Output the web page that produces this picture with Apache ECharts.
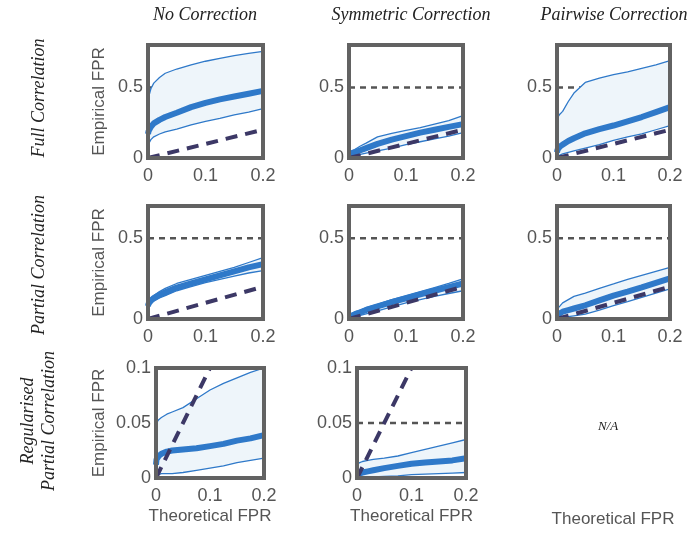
<!DOCTYPE html>
<html>
<head>
<meta charset="utf-8">
<script src="https://cdn.jsdelivr.net/npm/echarts@6/dist/echarts.min.js"></script>
<style>html,body{margin:0;padding:0;background:#fff;}#c{width:693px;height:537px;}</style>
</head>
<body>
<div id="c"></div>
<script>
// Theoretical FPR sample points (x) shared by every panel
var fprX = [0, 0.001, 0.005, 0.01, 0.02, 0.03, 0.05, 0.075, 0.1, 0.125, 0.15, 0.175, 0.2];

// Column / row labels
var colTitles = ['No Correction', 'Symmetric Correction', 'Pairwise Correction'];
var rowTitles = ['Full Correlation', 'Partial Correlation', 'Regularised\nPartial Correlation'];
var yAxisName = 'Empirical FPR';
var xAxisName = 'Theoretical FPR';
var naText = 'N/A';

// Row 1: Full Correlation
var fullNoUpper   = [0.40, 0.43, 0.49, 0.53, 0.57, 0.60, 0.63, 0.66, 0.685, 0.705, 0.725, 0.74, 0.755];
var fullNoMedian  = [0.17, 0.19, 0.22, 0.245, 0.27, 0.29, 0.32, 0.36, 0.39, 0.415, 0.435, 0.455, 0.475];
var fullNoLower   = [0.0, 0.10, 0.13, 0.15, 0.17, 0.185, 0.205, 0.235, 0.26, 0.28, 0.305, 0.325, 0.35];

var fullSymUpper  = [0.04, 0.045, 0.052, 0.06, 0.085, 0.105, 0.15, 0.175, 0.195, 0.215, 0.24, 0.265, 0.30];
var fullSymMedian = [0.015, 0.02, 0.03, 0.04, 0.055, 0.07, 0.10, 0.13, 0.155, 0.18, 0.20, 0.22, 0.24];
var fullSymLower  = [0.0, 0.002, 0.008, 0.015, 0.025, 0.035, 0.05, 0.07, 0.095, 0.115, 0.135, 0.155, 0.18];

var fullPairUpper  = [0.28, 0.29, 0.31, 0.33, 0.40, 0.46, 0.535, 0.565, 0.59, 0.61, 0.635, 0.66, 0.69];
var fullPairMedian = [0.04, 0.06, 0.08, 0.095, 0.12, 0.14, 0.175, 0.205, 0.23, 0.26, 0.29, 0.325, 0.36];
var fullPairLower  = [0.0, 0.01, 0.02, 0.03, 0.04, 0.05, 0.07, 0.095, 0.125, 0.15, 0.17, 0.2, 0.23];

// Row 2: Partial Correlation
var partNoUpper   = [0.09, 0.11, 0.13, 0.145, 0.17, 0.19, 0.22, 0.245, 0.27, 0.295, 0.32, 0.35, 0.38];
var partNoMedian  = [0.08, 0.095, 0.115, 0.13, 0.15, 0.165, 0.195, 0.22, 0.245, 0.27, 0.295, 0.32, 0.34];
var partNoLower   = [0.0, 0.075, 0.095, 0.11, 0.13, 0.145, 0.175, 0.2, 0.225, 0.245, 0.265, 0.285, 0.30];

var partSymUpper  = [0.02, 0.025, 0.035, 0.045, 0.055, 0.07, 0.09, 0.12, 0.145, 0.17, 0.195, 0.22, 0.248];
var partSymMedian = [0.01, 0.013, 0.02, 0.028, 0.042, 0.056, 0.078, 0.104, 0.128, 0.152, 0.175, 0.198, 0.22];
var partSymLower  = [0.0, 0.002, 0.006, 0.012, 0.022, 0.032, 0.05, 0.075, 0.1, 0.12, 0.14, 0.158, 0.175];

var partPairUpper  = [0.05, 0.065, 0.08, 0.1, 0.12, 0.14, 0.16, 0.19, 0.217, 0.245, 0.27, 0.295, 0.32];
var partPairMedian = [0.02, 0.025, 0.035, 0.045, 0.055, 0.065, 0.085, 0.115, 0.145, 0.17, 0.196, 0.224, 0.252];
var partPairLower  = [0.0, 0.002, 0.006, 0.01, 0.015, 0.02, 0.03, 0.055, 0.083, 0.108, 0.134, 0.16, 0.186];

// Row 3: Regularised Partial Correlation
var regNoUpper   = [0.048, 0.05, 0.053, 0.055, 0.058, 0.06, 0.064, 0.072, 0.08, 0.086, 0.091, 0.096, 0.1];
var regNoMedian  = [0.012, 0.017, 0.02, 0.022, 0.024, 0.025, 0.026, 0.027, 0.029, 0.031, 0.034, 0.036, 0.039];
var regNoLower   = [0.0, 0.003, 0.003, 0.004, 0.004, 0.004, 0.005, 0.007, 0.009, 0.011, 0.014, 0.016, 0.018];

var regSymUpper  = [0.012, 0.013, 0.014, 0.015, 0.016, 0.017, 0.018, 0.02, 0.023, 0.026, 0.029, 0.032, 0.035];
var regSymMedian = [0.002, 0.003, 0.004, 0.005, 0.006, 0.007, 0.009, 0.011, 0.013, 0.014, 0.015, 0.016, 0.018];
var regSymLower  = [0.0, 0.0, 0.0, 0.0005, 0.001, 0.001, 0.0015, 0.002, 0.003, 0.0035, 0.004, 0.0045, 0.005];

// Reference levels
var identityLine = [[0, 0], [0.2, 0.2]];
var refLevelRows = [0.5, 0.5, 0.05];
var yMaxRows = [0.8, 0.7, 0.1];
var yIntervalRows = [0.5, 0.5, 0.05];

var panels = [
  {row: 0, col: 0, up: fullNoUpper, med: fullNoMedian, lo: fullNoLower},
  {row: 0, col: 1, up: fullSymUpper, med: fullSymMedian, lo: fullSymLower},
  {row: 0, col: 2, up: fullPairUpper, med: fullPairMedian, lo: fullPairLower},
  {row: 1, col: 0, up: partNoUpper, med: partNoMedian, lo: partNoLower},
  {row: 1, col: 1, up: partSymUpper, med: partSymMedian, lo: partSymLower},
  {row: 1, col: 2, up: partPairUpper, med: partPairMedian, lo: partPairLower},
  {row: 2, col: 0, up: regNoUpper, med: regNoMedian, lo: regNoLower},
  {row: 2, col: 1, up: regSymUpper, med: regSymMedian, lo: regSymLower}
];

// layout (pixels)
var rowTop = [45, 206, 368];
var rowH = [113, 113, 110];
var colLeft = [[148, 349, 557], [148, 349, 557], [156, 357, 557]];
var colW = [[115, 114, 113], [115, 114, 113], [108, 109, 113]];

var SANS = 'Liberation Sans, Arial, Helvetica, sans-serif';
var SERIF = 'Liberation Serif, Times New Roman, serif';
var TXT = '#555555';
var BLUE = '#2f79c9';
var BAND = '#eef5fa';
var NAVY = '#3c3866';

function pairs(xs, ys) { return xs.map(function (x, i) { return [x, ys[i]]; }); }
function fmt(v) { return +v.toFixed(3) + ''; }

function bandRenderer(p) {
  return function (params, api) {
    if (params.dataIndexInside !== 0) return null;
    var pts = [];
    for (var i = 0; i < fprX.length; i++) pts.push(api.coord([fprX[i], p.up[i]]));
    for (var j = fprX.length - 1; j >= 0; j--) pts.push(api.coord([fprX[j], p.lo[j]]));
    var cs = params.coordSys;
    return {
      type: 'polygon', shape: {points: pts}, style: {fill: BAND},
      clipPath: {type: 'rect', shape: {x: cs.x, y: cs.y, width: cs.width, height: cs.height}}
    };
  };
}

var grids = [], xAxes = [], yAxes = [], series = [];
panels.forEach(function (p, k) {
  var r = p.row, c = p.col;
  grids.push({
    left: colLeft[r][c], top: rowTop[r], width: colW[r][c], height: rowH[r],
    show: true, borderColor: '#626262', borderWidth: 4, backgroundColor: 'transparent', z: 6
  });
  xAxes.push({
    gridIndex: k, type: 'value', min: 0, max: 0.2, interval: 0.1,
    axisLine: {show: false}, axisTick: {show: false}, splitLine: {show: false},
    axisLabel: {color: TXT, fontSize: 18, fontFamily: SANS, margin: 9, formatter: fmt},
    name: r === 2 ? xAxisName : '', nameLocation: 'middle', nameGap: 30,
    nameTextStyle: {color: TXT, fontSize: 17, fontFamily: SANS}
  });
  yAxes.push({
    gridIndex: k, type: 'value', min: 0, max: yMaxRows[r], interval: yIntervalRows[r],
    axisLine: {show: false}, axisTick: {show: false}, splitLine: {show: false},
    axisLabel: {color: TXT, fontSize: 18, fontFamily: SANS, margin: 5,
      formatter: function (v) { return v > yMaxRows[r] - 1e-9 && r < 2 ? '' : fmt(v); }},
    name: c === 0 ? yAxisName : '', nameLocation: 'middle', nameGap: r === 2 ? 48 : 40,
    nameTextStyle: {color: TXT, fontSize: 17, fontFamily: SANS}
  });
  var base = {xAxisIndex: k, yAxisIndex: k, silent: true, animation: false};
  series.push(Object.assign({}, base, {
    type: 'line', symbol: 'none',
    data: [[0, refLevelRows[r]], [0.2, refLevelRows[r]]],
    lineStyle: {color: '#555555', width: 2.5, type: [6, 5]}, z: 1
  }));
  series.push(Object.assign({}, base, {
    type: 'custom', coordinateSystem: 'cartesian2d',
    data: pairs(fprX, p.up), renderItem: bandRenderer(p), z: 2
  }));
  series.push(Object.assign({}, base, {type: 'line', symbol: 'none', data: pairs(fprX, p.up), lineStyle: {color: BLUE, width: 1.3}, z: 3}));
  series.push(Object.assign({}, base, {type: 'line', symbol: 'none', data: pairs(fprX, p.lo), lineStyle: {color: BLUE, width: 1.3}, z: 3}));
  series.push(Object.assign({}, base, {type: 'line', symbol: 'none', data: pairs(fprX, p.med), lineStyle: {color: BLUE, width: 6}, z: 4}));
  series.push(Object.assign({}, base, {type: 'line', symbol: 'none', data: identityLine, lineStyle: {color: NAVY, width: 4, type: [12, 8]}, z: 5}));
});

var colCenters = [205, 411, 614];
var graphics = [];
colTitles.forEach(function (t, i) {
  graphics.push({type: 'text', x: colCenters[i], y: 15, style: {text: t, align: 'center', verticalAlign: 'middle',
    font: 'italic 18px ' + SERIF, fill: '#222222'}});
});
var rowCenters = [98, 265, 421];
rowTitles.forEach(function (t, i) {
  graphics.push({type: 'text', x: 39, y: rowCenters[i], rotation: Math.PI / 2,
    style: {text: t, align: 'center', verticalAlign: 'middle', font: 'italic 18px ' + SERIF, fill: '#222222', lineHeight: 21}});
});
graphics.push({type: 'text', x: 608, y: 427, style: {text: naText, align: 'center', verticalAlign: 'middle',
  font: 'italic 13px ' + SERIF, fill: '#222222'}});
graphics.push({type: 'text', x: 613, y: 519, style: {text: xAxisName, align: 'center', verticalAlign: 'middle',
  font: '17px ' + SANS, fill: TXT}});

var chart = echarts.init(document.getElementById('c'), null, {renderer: 'canvas'});
chart.setOption({
  animation: false,
  backgroundColor: '#ffffff',
  grid: grids, xAxis: xAxes, yAxis: yAxes, series: series, graphic: graphics
});
</script>
</body>
</html>
